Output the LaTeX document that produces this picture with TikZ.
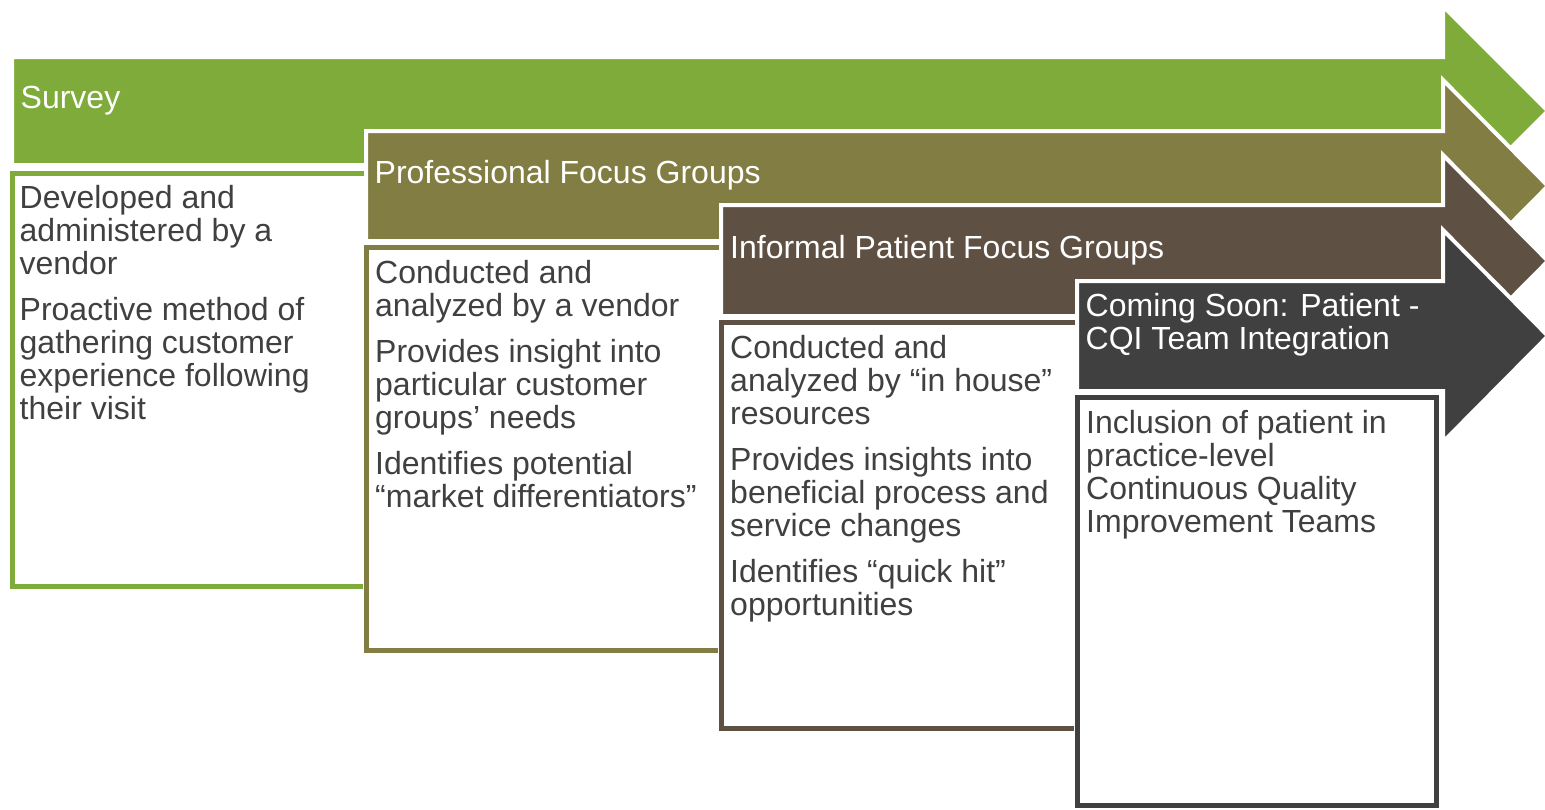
\documentclass[tikz,border=0pt]{standalone}
\usepackage{fontspec}
\setmainfont{Liberation Sans}
\definecolor{cgreen}{HTML}{7EAB3A}
\definecolor{colive}{HTML}{827D42}
\definecolor{cbrown}{HTML}{5E5043}
\definecolor{cgray}{HTML}{404040}
\definecolor{ctext}{HTML}{404040}
\begin{document}
\begin{tikzpicture}[x=1pt,y=-1pt,
  arrowshape/.style={fill=#1, draw=white, line width=4pt, line join=miter},
  boxshape/.style={fill=white, draw=#1, line width=5pt, line join=miter,
    preaction={draw=white, line width=8pt}},
  headtext/.style={text=white, anchor=base west, inner sep=0pt, font=\fontsize{32}{33}\selectfont},
  bodytext/.style={text=ctext, anchor=base west, inner sep=0pt, font=\fontsize{32}{33}\selectfont}]
\useasboundingbox (0,0) rectangle (1545,809);

% stage 1
\draw[arrowshape=cgreen] (12,57) -- (1443,57) -- (1443,6) -- (1548,111) -- (1443,216) -- (1443,165) -- (12,165) -- cycle;
\fill[white] (12.5,173.5) rectangle (390,586.5);
\draw[boxshape=cgreen] (390,173.5) -- (12.5,173.5) -- (12.5,586.5) -- (390,586.5);
% stage 2
\draw[arrowshape=colive] (366,131) -- (1443,131) -- (1443,80) -- (1548,186) -- (1443,292) -- (1443,241) -- (366,241) -- cycle;
\fill[white] (366.5,247.5) rectangle (745,650.5);
\draw[boxshape=colive] (745,247.5) -- (366.5,247.5) -- (366.5,650.5) -- (745,650.5);
% stage 3
\draw[arrowshape=cbrown] (721,205) -- (1443,205) -- (1443,155) -- (1548,261) -- (1443,367) -- (1443,316) -- (721,316) -- cycle;
\fill[white] (721.5,322.5) rectangle (1100,728.5);
\draw[boxshape=cbrown] (1100,322.5) -- (721.5,322.5) -- (721.5,728.5) -- (1100,728.5);
% stage 4
\draw[arrowshape=cgray] (1077,281) -- (1443,281) -- (1443,230) -- (1548,336) -- (1443,442) -- (1443,391) -- (1077,391) -- cycle;
\draw[boxshape=cgray] (1077.5,397.5) rectangle (1436.5,805.5);

% headers
\node[headtext] (h1) at (20.5,108) {Survey};
\node[headtext] (h2) at (374.5,183) {Professional Focus Groups};
\node[headtext] (h3) at (730,258) {Informal Patient Focus Groups};
\node[headtext] (h4) at (1085.5,316) {\begin{tabular}[t]{@{}l@{}}Coming Soon: Patient -\\CQI Team Integration\end{tabular}};

% bodies
\node[bodytext] (b1) at (19.5,208) {\begin{tabular}[t]{@{}l@{}}Developed and\\administered by a\\vendor\\[13pt]Proactive method of\\gathering customer\\experience following\\their visit\end{tabular}};
\node[bodytext] (b2) at (375,283) {\begin{tabular}[t]{@{}l@{}}Conducted and\\analyzed by a vendor\\[13pt]Provides insight into\\particular customer\\groups’ needs\\[13pt]Identifies potential\\“market differentiators”\end{tabular}};
\node[bodytext] (b3) at (730,358) {\begin{tabular}[t]{@{}l@{}}Conducted and\\analyzed by “in house”\\resources\\[13pt]Provides insights into\\beneficial process and\\service changes\\[13pt]Identifies “quick hit”\\opportunities\end{tabular}};
\node[bodytext] (b4) at (1086,433) {\begin{tabular}[t]{@{}l@{}}Inclusion of patient in\\practice-level\\Continuous Quality\\Improvement Teams\end{tabular}};
\end{tikzpicture}
\end{document}
